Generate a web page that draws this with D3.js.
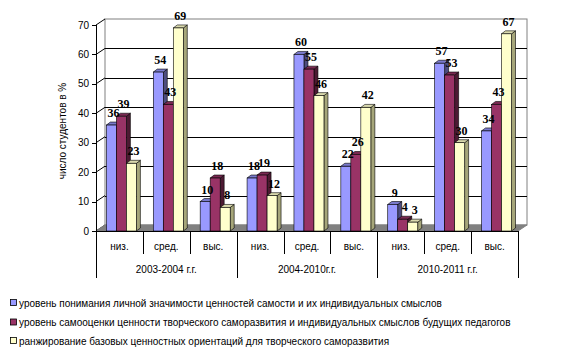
<!DOCTYPE html>
<html><head><meta charset="utf-8">
<script src="https://cdn.jsdelivr.net/npm/d3@7/dist/d3.min.js"></script>
<style>body{margin:0;background:#fff}svg{display:block}</style>
</head><body>
<script>
const categories = ["низ.","сред.","выс.","низ.","сред.","выс.","низ.","сред.","выс."];
const groups = ["2003-2004 г.г.","2004-2010г.г.","2010-2011 г.г."];
const seriesNames = [
 "уровень понимания личной значимости ценностей самости и их индивидуальных смыслов",
 "уровень самооценки ценности творческого саморазвития и индивидуальных смыслов будущих педагогов",
 "ранжирование базовых ценностных ориентаций для творческого саморазвития"
];
const s1 = [36,54,10,18,60,22,9,57,34];
const s2 = [39,43,18,19,55,26,4,53,43];
const s3 = [23,69,8,12,46,42,3,30,67];
const yTicks = [0,10,20,30,40,50,60,70];
const colors = [
 {front:"#9999FF", top:"#7a7acc", side:"#4d4d80"},
 {front:"#993366", top:"#7a2952", side:"#4d1a33"},
 {front:"#FFFFCC", top:"#d9d9ad", side:"#a6a67a"}
];

const W=578,H=358;
const svg=d3.select("body").append("svg").attr("width",W).attr("height",H);
const x0=96,x1=518, yBase=231, yTop=25;
const DX=9, DY=-6;
const x=d3.scaleBand().domain(d3.range(categories.length)).range([x0,x1]).paddingInner(0).paddingOuter(0);
const y=d3.scaleLinear().domain([0,70]).range([yBase,yTop]);
const font="'Liberation Sans', Arial, sans-serif";

// back wall
svg.append("rect").attr("x",x0+DX).attr("y",y(70)+DY).attr("width",x1-x0).attr("height",y(0)-y(70))
  .attr("fill","#fff").attr("stroke","#808080").attr("stroke-width",1);
// gridlines
svg.selectAll(".grid").data(yTicks.filter(d=>d>0&&d<70)).join("line")
  .attr("x1",x0+DX).attr("x2",x1+DX).attr("y1",d=>Math.round(y(d)+DY)+0.5).attr("y2",d=>Math.round(y(d)+DY)+0.5)
  .attr("stroke","#000").attr("stroke-width",1);
// left wall connectors
svg.selectAll(".conn").data(yTicks).join("line")
  .attr("x1",x0).attr("y1",d=>y(d)).attr("x2",x0+DX).attr("y2",d=>y(d)+DY)
  .attr("stroke","#000").attr("stroke-width",1);
// floor
svg.append("polygon").attr("points",[[x0,yBase],[x1,yBase],[x1+DX,yBase+DY],[x0+DX,yBase+DY]].join(" "))
  .attr("fill","#808080").attr("stroke","#808080");

// y axis
const yAxis=svg.append("g");
yAxis.append("line").attr("x1",x0+0.5).attr("x2",x0+0.5).attr("y1",yTop).attr("y2",yBase+1).attr("stroke","#000");
yAxis.selectAll(".tk").data(yTicks).join("line").attr("x1",x0-4).attr("x2",x0).attr("y1",d=>Math.round(y(d))+0.5).attr("y2",d=>Math.round(y(d))+0.5).attr("stroke","#000");
yAxis.selectAll(".tl").data(yTicks).join("text").attr("x",x0-7).attr("y",d=>y(d)+3.5).attr("text-anchor","end")
  .attr("font-family",font).attr("font-size",10).text(d=>d);
svg.append("text").attr("transform","translate(66,131) rotate(-90)").attr("text-anchor","middle")
  .attr("font-family",font).attr("font-size",10).text("число студентов в %");

// bars
const series=[s1,s2,s3];
const bw=10, off=10.4, bdx=4, bdy=-3;
const gBars=svg.append("g");
categories.forEach((c,i)=>{
  series.forEach((s,j)=>{
    const v=s[i];
    const bx=x(i)+off+j*bw, yt=y(v), yb=yBase;
    const g=gBars.append("g");
    g.append("polygon").attr("points",[[bx+bw,yt],[bx+bw+bdx,yt+bdy],[bx+bw+bdx,yb+bdy],[bx+bw,yb]].join(" "))
      .attr("fill",colors[j].side).attr("stroke","#000").attr("stroke-width",0.6);
    g.append("polygon").attr("points",[[bx,yt],[bx+bdx,yt+bdy],[bx+bw+bdx,yt+bdy],[bx+bw,yt]].join(" "))
      .attr("fill",colors[j].top).attr("stroke","#000").attr("stroke-width",0.6);
    g.append("rect").attr("x",bx).attr("y",yt).attr("width",bw).attr("height",yb-yt)
      .attr("fill",colors[j].front).attr("stroke","#000").attr("stroke-width",0.6);
  });
});
// labels
categories.forEach((c,i)=>{
  series.forEach((s,j)=>{
    const v=s[i];
    const bx=x(i)+off+j*bw;
    svg.append("text").attr("x",bx+bw/2+2).attr("y",y(v)-8).attr("text-anchor","middle")
      .attr("font-family","'Liberation Serif','Times New Roman',serif").attr("font-weight","bold")
      .attr("font-size",12).text(v);
  });
});

// category axis
const cg=svg.append("g");
cg.append("line").attr("x1",x0).attr("x2",x1).attr("y1",yBase+0.5).attr("y2",yBase+0.5).attr("stroke","#000");
cg.selectAll(".div").data(d3.range(categories.length+1)).join("line")
  .attr("x1",d=>Math.round(x0+d*x.bandwidth())+0.5).attr("x2",d=>Math.round(x0+d*x.bandwidth())+0.5)
  .attr("y1",yBase).attr("y2",d=>d%3===0?278:254).attr("stroke","#000");
cg.selectAll(".cl").data(categories).join("text").attr("x",(d,i)=>x(i)+x.bandwidth()/2).attr("y",250)
  .attr("text-anchor","middle").attr("font-family",font).attr("font-size",10).text(d=>d);
cg.selectAll(".gl").data(groups).join("text").attr("x",(d,i)=>x(i*3)+x.bandwidth()*1.5).attr("y",273)
  .attr("text-anchor","middle").attr("font-family",font).attr("font-size",10).text(d=>d);

// legend
const ly=[303,322.5,341];
const lg=svg.append("g");
seriesNames.forEach((n,j)=>{
  lg.append("rect").attr("x",10.5).attr("y",ly[j]-3.5).attr("width",6).attr("height",6)
    .attr("fill",colors[j].front).attr("stroke","#000").attr("stroke-width",0.8);
  lg.append("text").attr("x",19).attr("y",ly[j]+3.5).attr("font-family",font).attr("font-size",10).text(n);
});
</script>
</body></html>
